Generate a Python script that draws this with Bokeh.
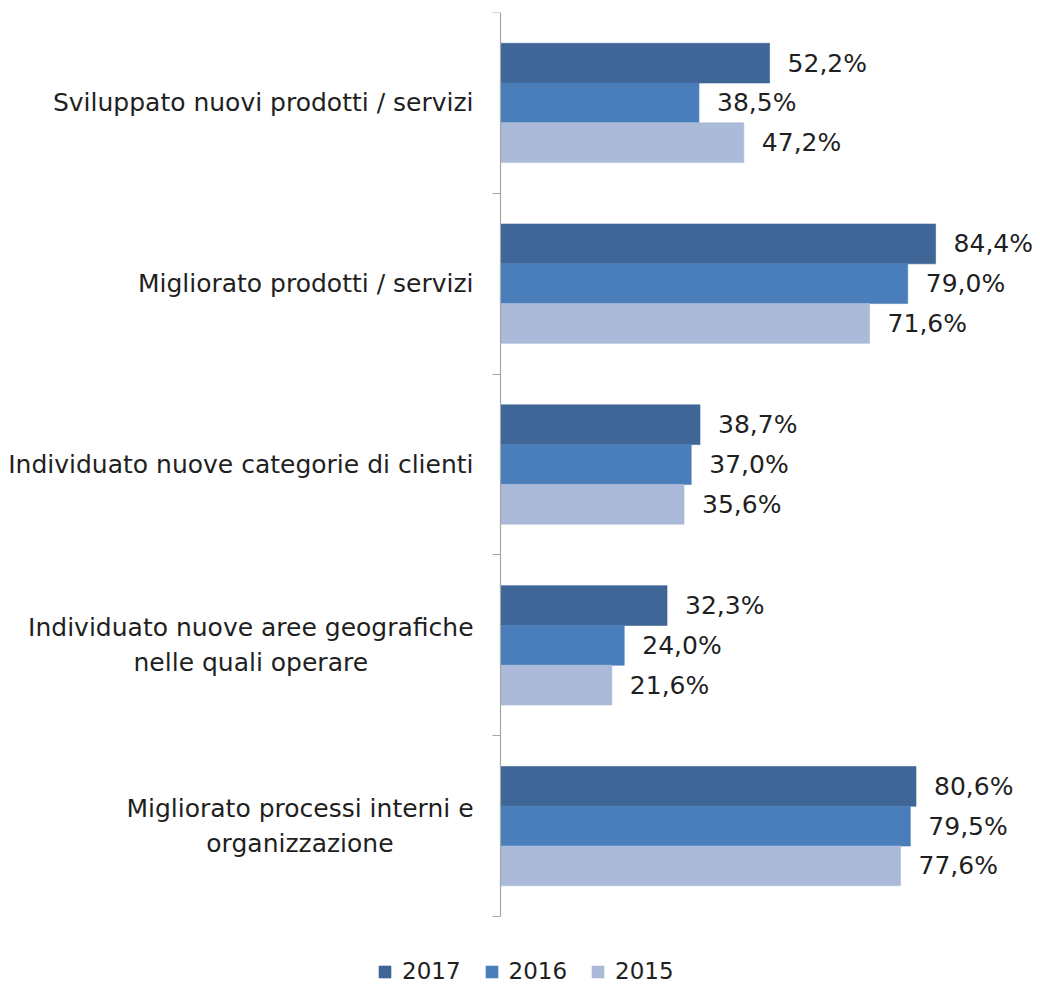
from bokeh.plotting import figure
from bokeh.models import ColumnDataSource, Range1d, FixedTicker, Legend, LegendItem
from bokeh.core.properties import value
from bokeh.embed import file_html
from bokeh.resources import INLINE

categories = [
    "Sviluppato nuovi prodotti / servizi",
    "Migliorato prodotti / servizi",
    "Individuato nuove categorie di clienti",
    "Individuato nuove aree geografiche\nnelle quali operare",
    "Migliorato processi interni e\norganizzazione",
]
years = ["2017", "2016", "2015"]
v2017 = [52.2, 84.4, 38.7, 32.3, 80.6]
v2016 = [38.5, 79.0, 37.0, 24.0, 79.5]
v2015 = [47.2, 71.6, 35.6, 21.6, 77.6]
series = [v2017, v2016, v2015]
colors = ["#3F6696", "#4A7EBB", "#AABAD8"]

FONT = "DejaVu Sans"
TXT = "#1f1f1f"
BAR_H = 0.22
N = len(categories)

p = figure(width=1032, height=984, output_backend="svg", toolbar_location=None,
           x_range=Range1d(-97.0, 103.2), y_range=Range1d(N + 0.376, 0),
           min_border_left=0, min_border_right=0, min_border_top=12, min_border_bottom=0)
p.outline_line_color = None
p.grid.visible = False
p.xaxis.visible = False
p.background_fill_color = "white"
p.border_fill_color = "white"

centers = [i + 0.5 for i in range(N)]
ax = p.yaxis[0]
ax.fixed_location = 0
ax.bounds = (0, N)
ax.ticker = FixedTicker(ticks=[], minor_ticks=list(range(N + 1)))
ax.axis_line_color = "#A6A6A6"
ax.axis_line_width = 1.2
ax.minor_tick_line_color = "#A6A6A6"
ax.minor_tick_line_width = 1.2
ax.minor_tick_out = 8
ax.minor_tick_in = 0
ax.major_tick_out = 0
ax.major_tick_in = 0
ax.major_label_text_font_size = "0px"

cat_src = ColumnDataSource(dict(x=[0] * N, y=centers, t=categories))
p.text(x="x", y="y", text="t", source=cat_src, x_offset=-27,
       anchor="center_right", text_align="center", text_baseline="middle",
       text_font=value(FONT), text_font_size="25px", text_color=TXT,
       text_line_height=1.2)

offsets = [-BAR_H, 0.0, BAR_H]
items = []
for yr, vals, col, off in zip(years, series, colors, offsets):
    ys = [c + off for c in centers]
    src = ColumnDataSource(dict(y=ys, v=vals,
                                lab=[f"{v:.1f}%".replace(".", ",") for v in vals]))
    r = p.hbar(y="y", right="v", left=0, height=BAR_H, source=src,
               fill_color=col, line_color=col, line_alpha=0.6)
    p.text(x="v", y="y", text="lab", source=src, x_offset=18,
           text_baseline="middle", text_align="left",
           text_font=value(FONT), text_font_size="25px", text_color=TXT)
    items.append(LegendItem(label=yr, renderers=[r]))

lg = Legend(items=items, orientation="horizontal", location=(377, 0),
            glyph_width=15, glyph_height=15, label_standoff=10, spacing=23,
            padding=0, margin=0, border_line_color=None, background_fill_alpha=0,
            label_text_font=FONT, label_text_font_size="23px", label_text_color=TXT)
p.add_layout(lg, "center")

open("out.html", "w").write(file_html(p, INLINE))
